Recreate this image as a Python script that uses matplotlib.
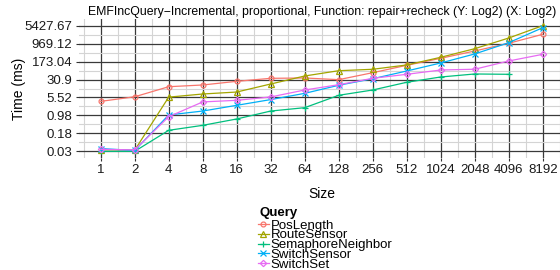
import matplotlib
matplotlib.use("Agg")
import matplotlib.pyplot as plt
import numpy as np
from matplotlib.lines import Line2D
from matplotlib.ticker import FixedLocator, NullFormatter

plt.rcParams['font.family'] = ['Liberation Sans', 'DejaVu Sans']

sizes = [1, 2, 4, 8, 16, 32, 64, 128, 256, 512, 1024, 2048, 4096, 8192]
size_labels = [str(s) for s in sizes]

pos_length = [3.8, 5.9, 15.5, 18.3, 26, 34.7, 35.8, 30.5, 59.5, 121, 237, 478, 1003, 2370]
route_sensor = [0.037, 0.035, 5.7, 7.7, 9.3, 20.1, 43.4, 72, 82.6, 125, 261, 596, 1660, 5427.67]
semaphore_neighbor = [0.0314, 0.0314, 0.236, 0.38, 0.70, 1.5, 2.07, 6.8, 11.3, 23.7, 39.4, 52.6, 51, np.nan]
switch_sensor = [0.041, 0.034, 1.03, 1.5, 2.6, 4.5, 8.2, 17.8, 33.4, 70, 151, 360, 1060, 4470]
switch_set = [0.038, 0.036, 0.87, 3.6, 4.2, 5.8, 11.3, 18.8, 34.7, 51, 77, 83, 183, 347]

y_labels = ["0.03", "0.18", "0.98", "5.52", "30.9", "173.04", "969.12", "5427.67"]

queries = ["PosLength", "RouteSensor", "SemaphoreNeighbor", "SwitchSensor", "SwitchSet"]
series = [pos_length, route_sensor, semaphore_neighbor, switch_sensor, switch_set]
colors = ["#F8766D", "#A3A500", "#00BF7D", "#00B0F6", "#E76BF3"]
markers = ["o", "^", "+", "x", "D"]
msizes = [3.5, 3.8, 4.5, 4, 3.2]

fig = plt.figure(figsize=(5.6, 2.7), dpi=100)
W, H = 560, 270
left, right, top, bottom = 78.6, 564.8, 19.4, 157.6
ax = fig.add_axes([left / W, 1 - bottom / H, (right - left) / W, (bottom - top) / H])

for name, vals, c, m, ms in zip(queries, series, colors, markers, msizes):
    ax.plot(sizes, vals, color=c, lw=0.9, marker=m, ms=ms, mfc='none', mec=c, mew=0.9,
            clip_on=False, zorder=3)

ax.set_xscale('log', base=2)
ax.set_yscale('log', base=2)

# y breaks spread evenly (log2) between data min and max
allv = np.concatenate([np.array(s, dtype=float) for s in series])
lo, hi = np.log2(np.nanmin(allv)), np.log2(np.nanmax(allv))
ybr = np.linspace(lo, hi, 8)
step = ybr[1] - ybr[0]
ax.set_yticks(2 ** ybr)
ax.set_yticklabels(y_labels)
ax.yaxis.set_minor_locator(FixedLocator(2 ** (ybr[:-1] + step / 2)))
ax.yaxis.set_minor_formatter(NullFormatter())
exp = 0.05 * (hi - lo)
ax.set_ylim(2 ** (lo - exp), 2 ** (hi + exp))

xl = np.log2(sizes)
ax.set_xticks(sizes)
ax.set_xticklabels(size_labels)
ax.xaxis.set_minor_locator(FixedLocator(2 ** (np.arange(-1, 14) + 0.5)))
ax.xaxis.set_minor_formatter(NullFormatter())
xexp = 0.05 * (xl[-1] - xl[0])
ax.set_xlim(2 ** (xl[0] - xexp), 2 ** (xl[-1] + xexp))

ax.grid(which='major', color='#3a3a3a', lw=0.9)
ax.grid(which='minor', color='#d4d4d4', lw=0.8)
ax.set_axisbelow(True)
for s in ax.spines.values():
    s.set_visible(False)
ax.tick_params(which='major', length=2.5, width=0.8, color='#333333', labelsize=9.5,
               labelcolor='#1a1a1a', pad=2)
ax.tick_params(which='minor', length=0)

ax.set_title("EMFIncQuery\u2212Incremental, proportional, Function: repair+recheck (Y: Log2) (X: Log2)",
             fontsize=8.8, pad=3)
ax.set_ylabel("Time (ms)", fontsize=10, labelpad=-1)
ax.set_xlabel("Size", fontsize=10, labelpad=8)

# legend: title drawn as its own text, entries packed tightly below
fig.text(259 / W, 1 - 213 / H, "Query", fontsize=9.5, fontweight='bold', ha='left', va='center')
handles = [Line2D([], [], color=c, lw=0.9, marker=m, ms=ms, mfc='none', mec=c, mew=0.9)
           for c, m, ms in zip(colors, markers, msizes)]
leg = fig.legend(handles, queries, loc='upper left', bbox_to_anchor=(258 / W, 1 - 219.5 / H),
                 frameon=False, fontsize=9.5, handlelength=0.8,
                 handletextpad=0.15, labelspacing=-0.19, borderpad=0, borderaxespad=0)

fig.savefig("out.png", dpi=100)
